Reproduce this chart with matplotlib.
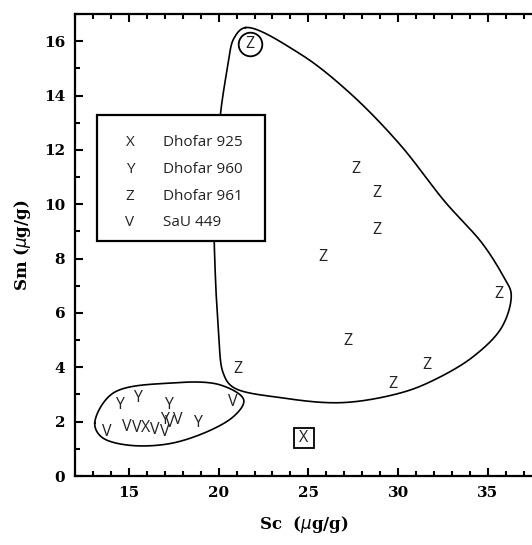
import numpy as np
import matplotlib
matplotlib.use("Agg")
import matplotlib.pyplot as plt
from matplotlib.patches import Rectangle
from matplotlib.ticker import MultipleLocator

# ---- data ----
z_sc = [21.75, 27.65, 28.8, 28.8, 25.8, 35.6, 27.2, 21.1, 31.6, 29.7]
z_sm = [15.9, 11.3, 10.4, 9.04, 8.05, 6.7, 4.96, 3.93, 4.08, 3.4]
y_sc = [14.5, 15.5, 17.2, 17.0, 18.8]
y_sm = [2.61, 2.86, 2.61, 2.05, 1.95]
v_sc = [13.76, 14.9, 15.45, 16.42, 17.3, 17.7, 17.0, 20.8]
v_sm = [1.63, 1.81, 1.76, 1.69, 1.95, 2.05, 1.62, 2.72]
x_sc = [15.95, 24.76]
x_sm = [1.76, 1.4]

legend_symbols = ["X", "Y", "Z", "V"]
legend_names = ["Dhofar 925", "Dhofar 960", "Dhofar 961", "SaU 449"]

# outline control points (data coords)
big_sc = [21.5, 24.5, 27.3, 30.1, 32.6, 34.7, 35.9, 36.3, 35.8, 34.2, 31.9, 30.1,
          26.9, 23.6, 20.8, 20.25, 20.0, 19.8, 19.75, 19.9, 20.1, 20.5, 20.85]
big_sm = [16.5, 15.55, 14.1, 12.2, 10.1, 8.55, 7.3, 6.7, 5.5, 4.4, 3.5, 3.05,
          2.7, 2.87, 3.27, 3.8, 5.25, 7.7, 9.5, 11.5, 13.3, 15.04, 16.1]
small_sc = [13.1, 14.1, 17.3, 20.1, 21.4, 20.8, 17.7, 14.9, 13.45]
small_sm = [1.95, 3.04, 3.42, 3.35, 2.8, 2.17, 1.25, 1.14, 1.45]


def closed_spline(xs, ys, n=60, alpha=0.5):
    """Centripetal Catmull-Rom through the points (closed)."""
    sx, sy = 17.95, 27.2
    pts = np.column_stack([np.asarray(xs) * sx, np.asarray(ys) * sy])
    m = len(pts)
    out = []
    for i in range(m):
        p0, p1, p2, p3 = pts[(i - 1) % m], pts[i], pts[(i + 1) % m], pts[(i + 2) % m]
        t0 = 0.0
        t1 = t0 + np.linalg.norm(p1 - p0) ** alpha
        t2 = t1 + np.linalg.norm(p2 - p1) ** alpha
        t3 = t2 + np.linalg.norm(p3 - p2) ** alpha
        t = np.linspace(t1, t2, n, endpoint=False)[:, None]
        a1 = (t1 - t) / (t1 - t0) * p0 + (t - t0) / (t1 - t0) * p1
        a2 = (t2 - t) / (t2 - t1) * p1 + (t - t1) / (t2 - t1) * p2
        a3 = (t3 - t) / (t3 - t2) * p2 + (t - t2) / (t3 - t2) * p3
        b1 = (t2 - t) / (t2 - t0) * a1 + (t - t0) / (t2 - t0) * a2
        b2 = (t3 - t) / (t3 - t1) * a2 + (t - t1) / (t3 - t1) * a3
        c = (t2 - t) / (t2 - t1) * b1 + (t - t1) / (t2 - t1) * b2
        out.append(c)
    out = np.vstack(out + [out[0][:1]])
    return out[:, 0] / sx, out[:, 1] / sy


fig = plt.figure(figsize=(5.32, 5.45), dpi=100)
ax = fig.add_axes([75 / 532, 1 - 476 / 545, 1 - 75 / 532, (476 - 14) / 545])
ax.set_xlim(12, 12 + (532 - 75) / 17.95)
ax.set_ylim(0, 17)

sans = "Open Sans"
lbl_kw = dict(ha="center", va="center", fontsize=11.5, family=sans, color="#222222")
for sx, sy in zip(z_sc, z_sm):
    ax.text(sx, sy, "Z", **lbl_kw)
for sx, sy in zip(y_sc, y_sm):
    ax.text(sx, sy, "Y", **lbl_kw)
for sx, sy in zip(v_sc, v_sm):
    ax.text(sx, sy, "V", **lbl_kw)
for sx, sy in zip(x_sc, x_sm):
    ax.text(sx, sy, "X", **lbl_kw)

# circled Z and boxed X
ax.plot([z_sc[0]], [z_sm[0]], marker="o", ms=17, mfc="none", mec="black", mew=1.3)
ax.plot([x_sc[1]], [x_sm[1]], marker="s", ms=15, mfc="none", mec="black", mew=1.3)

bx, by = closed_spline(big_sc, big_sm)
ax.plot(bx, by, color="black", lw=1.2)
sx_, sy_ = closed_spline(small_sc, small_sm)
ax.plot(sx_, sy_, color="black", lw=1.2)

# legend box
lx0, lx1, ly0, ly1 = 13.23, 22.58, 8.64, 13.27
ax.add_patch(Rectangle((lx0, ly0), lx1 - lx0, ly1 - ly0, facecolor="white",
                       edgecolor="black", lw=1.6, zorder=5))
rows = [12.28, 11.29, 10.29, 9.34]
for sym, name, ry in zip(legend_symbols, legend_names, rows):
    ax.text(15.06, ry, sym, ha="center", va="center", fontsize=11, family=sans,
            color="#222222", zorder=6)
    ax.text(16.9, ry, name, ha="left", va="center", fontsize=11, family=sans,
            color="#222222", zorder=6)

# axes styling
ax.spines["right"].set_visible(False)
for s in ["left", "top", "bottom"]:
    ax.spines[s].set_linewidth(1.6)
ax.xaxis.set_major_locator(MultipleLocator(5))
ax.xaxis.set_minor_locator(MultipleLocator(1))
ax.yaxis.set_major_locator(MultipleLocator(2))
ax.yaxis.set_minor_locator(MultipleLocator(1))
ax.tick_params(which="both", direction="in", top=True, right=False, width=1.5)
ax.tick_params(which="major", length=6)
ax.tick_params(which="minor", length=3.5)
ax.tick_params(axis="both", which="major", pad=7)
for lab in ax.get_xticklabels() + ax.get_yticklabels():
    lab.set_family("DejaVu Serif")
    lab.set_fontweight("bold")
    lab.set_fontsize(11)

plt.rcParams["mathtext.fontset"] = "dejavuserif"
ax.set_xlabel(r"Sc  ($\mu$g/g)", family="DejaVu Serif", fontweight="bold", fontsize=12,
              labelpad=10)
ax.set_ylabel(r"Sm ($\mu$g/g)", family="DejaVu Serif", fontweight="bold", fontsize=12,
              labelpad=8)

fig.savefig("out.png", dpi=100)
